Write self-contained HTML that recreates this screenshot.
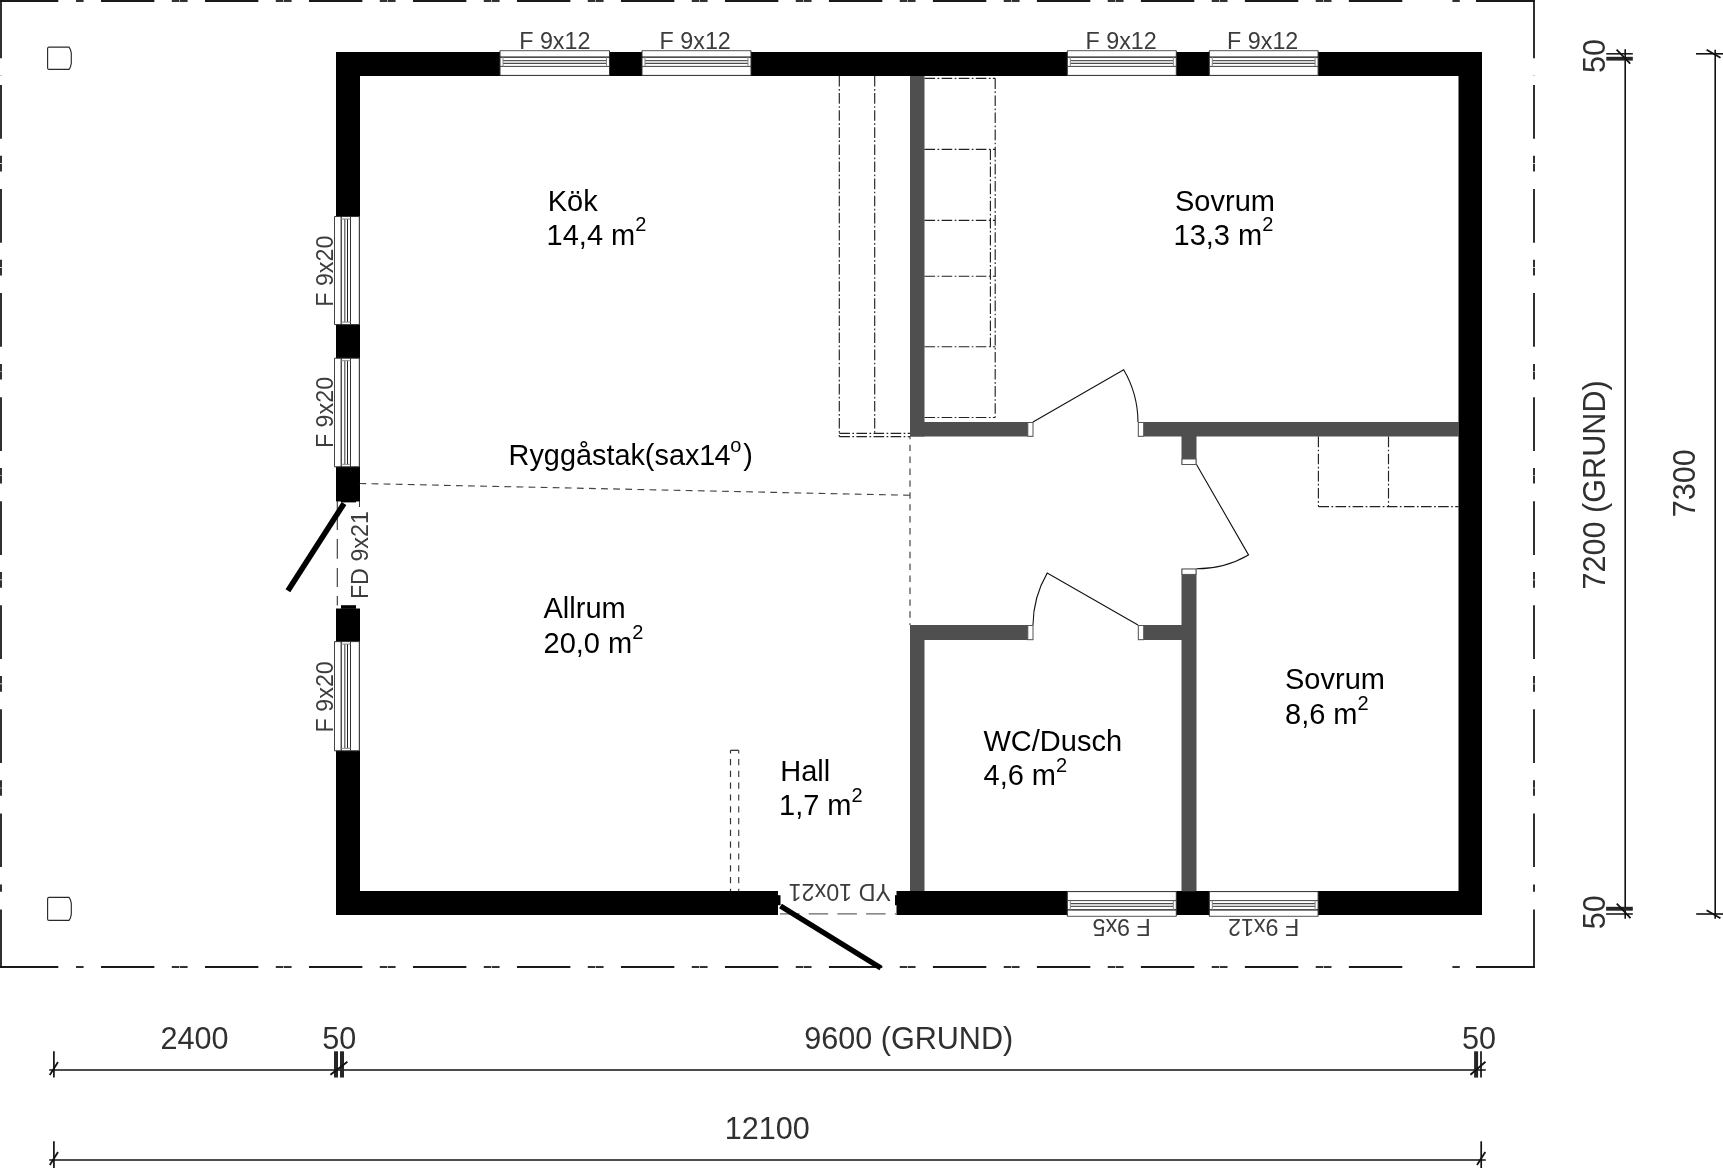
<!DOCTYPE html>
<html><head><meta charset="utf-8"><title>Planritning</title>
<style>html,body{margin:0;padding:0;background:#fff;overflow:hidden;width:1723px;height:1168px;} svg{display:block;position:absolute;left:0;top:0;filter:grayscale(1);} text{font-family:"Liberation Sans",sans-serif;}</style>
</head><body>
<svg width="1723" height="1168" viewBox="0 0 1723 1168">
<rect x="0" y="0" width="1723" height="1168" fill="#fff"/>
<line x1="0" y1="1" x2="58.3" y2="1" stroke="#1a1a1a" stroke-width="1.8" />
<line x1="76.0" y1="1" x2="83.6" y2="1" stroke="#1a1a1a" stroke-width="1.8" />
<line x1="101.0" y1="1" x2="154.4" y2="1" stroke="#1a1a1a" stroke-width="1.8" />
<line x1="171.8" y1="1" x2="179.4" y2="1" stroke="#1a1a1a" stroke-width="1.8" />
<line x1="180.0" y1="1" x2="187.6" y2="1" stroke="#1a1a1a" stroke-width="1.8" />
<line x1="204.99" y1="1" x2="258.39" y2="1" stroke="#1a1a1a" stroke-width="1.8" />
<line x1="275.79" y1="1" x2="283.39" y2="1" stroke="#1a1a1a" stroke-width="1.8" />
<line x1="283.99" y1="1" x2="291.59000000000003" y2="1" stroke="#1a1a1a" stroke-width="1.8" />
<line x1="308.98" y1="1" x2="362.38" y2="1" stroke="#1a1a1a" stroke-width="1.8" />
<line x1="379.78000000000003" y1="1" x2="387.38" y2="1" stroke="#1a1a1a" stroke-width="1.8" />
<line x1="387.98" y1="1" x2="395.58000000000004" y2="1" stroke="#1a1a1a" stroke-width="1.8" />
<line x1="412.96999999999997" y1="1" x2="466.36999999999995" y2="1" stroke="#1a1a1a" stroke-width="1.8" />
<line x1="483.77" y1="1" x2="491.37" y2="1" stroke="#1a1a1a" stroke-width="1.8" />
<line x1="491.96999999999997" y1="1" x2="499.56999999999994" y2="1" stroke="#1a1a1a" stroke-width="1.8" />
<line x1="516.96" y1="1" x2="570.36" y2="1" stroke="#1a1a1a" stroke-width="1.8" />
<line x1="587.76" y1="1" x2="595.36" y2="1" stroke="#1a1a1a" stroke-width="1.8" />
<line x1="595.96" y1="1" x2="603.5600000000001" y2="1" stroke="#1a1a1a" stroke-width="1.8" />
<line x1="620.9499999999999" y1="1" x2="674.3499999999999" y2="1" stroke="#1a1a1a" stroke-width="1.8" />
<line x1="691.7499999999999" y1="1" x2="699.3499999999999" y2="1" stroke="#1a1a1a" stroke-width="1.8" />
<line x1="699.9499999999999" y1="1" x2="707.55" y2="1" stroke="#1a1a1a" stroke-width="1.8" />
<line x1="724.9399999999999" y1="1" x2="778.3399999999999" y2="1" stroke="#1a1a1a" stroke-width="1.8" />
<line x1="795.7399999999999" y1="1" x2="803.3399999999999" y2="1" stroke="#1a1a1a" stroke-width="1.8" />
<line x1="803.9399999999999" y1="1" x2="811.54" y2="1" stroke="#1a1a1a" stroke-width="1.8" />
<line x1="828.93" y1="1" x2="882.3299999999999" y2="1" stroke="#1a1a1a" stroke-width="1.8" />
<line x1="899.7299999999999" y1="1" x2="907.3299999999999" y2="1" stroke="#1a1a1a" stroke-width="1.8" />
<line x1="907.93" y1="1" x2="915.53" y2="1" stroke="#1a1a1a" stroke-width="1.8" />
<line x1="932.92" y1="1" x2="986.3199999999999" y2="1" stroke="#1a1a1a" stroke-width="1.8" />
<line x1="1003.7199999999999" y1="1" x2="1011.3199999999999" y2="1" stroke="#1a1a1a" stroke-width="1.8" />
<line x1="1011.92" y1="1" x2="1019.52" y2="1" stroke="#1a1a1a" stroke-width="1.8" />
<line x1="1036.9099999999999" y1="1" x2="1090.31" y2="1" stroke="#1a1a1a" stroke-width="1.8" />
<line x1="1107.7099999999998" y1="1" x2="1115.31" y2="1" stroke="#1a1a1a" stroke-width="1.8" />
<line x1="1115.9099999999999" y1="1" x2="1123.5099999999998" y2="1" stroke="#1a1a1a" stroke-width="1.8" />
<line x1="1140.8999999999999" y1="1" x2="1194.3" y2="1" stroke="#1a1a1a" stroke-width="1.8" />
<line x1="1211.6999999999998" y1="1" x2="1219.3" y2="1" stroke="#1a1a1a" stroke-width="1.8" />
<line x1="1219.8999999999999" y1="1" x2="1227.4999999999998" y2="1" stroke="#1a1a1a" stroke-width="1.8" />
<line x1="1244.8899999999999" y1="1" x2="1298.29" y2="1" stroke="#1a1a1a" stroke-width="1.8" />
<line x1="1315.6899999999998" y1="1" x2="1323.29" y2="1" stroke="#1a1a1a" stroke-width="1.8" />
<line x1="1323.8899999999999" y1="1" x2="1331.4899999999998" y2="1" stroke="#1a1a1a" stroke-width="1.8" />
<line x1="1348.8799999999999" y1="1" x2="1402.28" y2="1" stroke="#1a1a1a" stroke-width="1.8" />
<line x1="1452.4" y1="1" x2="1459.8" y2="1" stroke="#1a1a1a" stroke-width="1.8" />
<line x1="1476.0" y1="1" x2="1534.9" y2="1" stroke="#1a1a1a" stroke-width="1.8" />
<line x1="0" y1="967" x2="58.3" y2="967" stroke="#1a1a1a" stroke-width="1.8" />
<line x1="76.0" y1="967" x2="83.6" y2="967" stroke="#1a1a1a" stroke-width="1.8" />
<line x1="101.0" y1="967" x2="154.4" y2="967" stroke="#1a1a1a" stroke-width="1.8" />
<line x1="171.8" y1="967" x2="179.4" y2="967" stroke="#1a1a1a" stroke-width="1.8" />
<line x1="180.0" y1="967" x2="187.6" y2="967" stroke="#1a1a1a" stroke-width="1.8" />
<line x1="204.99" y1="967" x2="258.39" y2="967" stroke="#1a1a1a" stroke-width="1.8" />
<line x1="275.79" y1="967" x2="283.39" y2="967" stroke="#1a1a1a" stroke-width="1.8" />
<line x1="283.99" y1="967" x2="291.59000000000003" y2="967" stroke="#1a1a1a" stroke-width="1.8" />
<line x1="308.98" y1="967" x2="362.38" y2="967" stroke="#1a1a1a" stroke-width="1.8" />
<line x1="379.78000000000003" y1="967" x2="387.38" y2="967" stroke="#1a1a1a" stroke-width="1.8" />
<line x1="387.98" y1="967" x2="395.58000000000004" y2="967" stroke="#1a1a1a" stroke-width="1.8" />
<line x1="412.96999999999997" y1="967" x2="466.36999999999995" y2="967" stroke="#1a1a1a" stroke-width="1.8" />
<line x1="483.77" y1="967" x2="491.37" y2="967" stroke="#1a1a1a" stroke-width="1.8" />
<line x1="491.96999999999997" y1="967" x2="499.56999999999994" y2="967" stroke="#1a1a1a" stroke-width="1.8" />
<line x1="516.96" y1="967" x2="570.36" y2="967" stroke="#1a1a1a" stroke-width="1.8" />
<line x1="587.76" y1="967" x2="595.36" y2="967" stroke="#1a1a1a" stroke-width="1.8" />
<line x1="595.96" y1="967" x2="603.5600000000001" y2="967" stroke="#1a1a1a" stroke-width="1.8" />
<line x1="620.9499999999999" y1="967" x2="674.3499999999999" y2="967" stroke="#1a1a1a" stroke-width="1.8" />
<line x1="691.7499999999999" y1="967" x2="699.3499999999999" y2="967" stroke="#1a1a1a" stroke-width="1.8" />
<line x1="699.9499999999999" y1="967" x2="707.55" y2="967" stroke="#1a1a1a" stroke-width="1.8" />
<line x1="724.9399999999999" y1="967" x2="778.3399999999999" y2="967" stroke="#1a1a1a" stroke-width="1.8" />
<line x1="795.7399999999999" y1="967" x2="803.3399999999999" y2="967" stroke="#1a1a1a" stroke-width="1.8" />
<line x1="803.9399999999999" y1="967" x2="811.54" y2="967" stroke="#1a1a1a" stroke-width="1.8" />
<line x1="828.93" y1="967" x2="882.3299999999999" y2="967" stroke="#1a1a1a" stroke-width="1.8" />
<line x1="899.7299999999999" y1="967" x2="907.3299999999999" y2="967" stroke="#1a1a1a" stroke-width="1.8" />
<line x1="907.93" y1="967" x2="915.53" y2="967" stroke="#1a1a1a" stroke-width="1.8" />
<line x1="932.92" y1="967" x2="986.3199999999999" y2="967" stroke="#1a1a1a" stroke-width="1.8" />
<line x1="1003.7199999999999" y1="967" x2="1011.3199999999999" y2="967" stroke="#1a1a1a" stroke-width="1.8" />
<line x1="1011.92" y1="967" x2="1019.52" y2="967" stroke="#1a1a1a" stroke-width="1.8" />
<line x1="1036.9099999999999" y1="967" x2="1090.31" y2="967" stroke="#1a1a1a" stroke-width="1.8" />
<line x1="1107.7099999999998" y1="967" x2="1115.31" y2="967" stroke="#1a1a1a" stroke-width="1.8" />
<line x1="1115.9099999999999" y1="967" x2="1123.5099999999998" y2="967" stroke="#1a1a1a" stroke-width="1.8" />
<line x1="1140.8999999999999" y1="967" x2="1194.3" y2="967" stroke="#1a1a1a" stroke-width="1.8" />
<line x1="1211.6999999999998" y1="967" x2="1219.3" y2="967" stroke="#1a1a1a" stroke-width="1.8" />
<line x1="1219.8999999999999" y1="967" x2="1227.4999999999998" y2="967" stroke="#1a1a1a" stroke-width="1.8" />
<line x1="1244.8899999999999" y1="967" x2="1298.29" y2="967" stroke="#1a1a1a" stroke-width="1.8" />
<line x1="1315.6899999999998" y1="967" x2="1323.29" y2="967" stroke="#1a1a1a" stroke-width="1.8" />
<line x1="1323.8899999999999" y1="967" x2="1331.4899999999998" y2="967" stroke="#1a1a1a" stroke-width="1.8" />
<line x1="1348.8799999999999" y1="967" x2="1402.28" y2="967" stroke="#1a1a1a" stroke-width="1.8" />
<line x1="1452.4" y1="967" x2="1459.8" y2="967" stroke="#1a1a1a" stroke-width="1.8" />
<line x1="1476.0" y1="967" x2="1534.9" y2="967" stroke="#1a1a1a" stroke-width="1.8" />
<line x1="1" y1="0" x2="1" y2="58.3" stroke="#1a1a1a" stroke-width="1.8" />
<line x1="1" y1="75" x2="1" y2="76" stroke="#bbb" stroke-width="1.6" />
<line x1="1" y1="85.0" x2="1" y2="138.7" stroke="#1a1a1a" stroke-width="1.8" />
<line x1="1" y1="155.8" x2="1" y2="163.3" stroke="#1a1a1a" stroke-width="1.8" />
<line x1="1" y1="163.9" x2="1" y2="171.4" stroke="#1a1a1a" stroke-width="1.8" />
<line x1="1" y1="189.06" x2="1" y2="242.76" stroke="#1a1a1a" stroke-width="1.8" />
<line x1="1" y1="259.86" x2="1" y2="267.36" stroke="#1a1a1a" stroke-width="1.8" />
<line x1="1" y1="267.96000000000004" x2="1" y2="275.46000000000004" stroke="#1a1a1a" stroke-width="1.8" />
<line x1="1" y1="293.12" x2="1" y2="346.82" stroke="#1a1a1a" stroke-width="1.8" />
<line x1="1" y1="363.92" x2="1" y2="371.42" stroke="#1a1a1a" stroke-width="1.8" />
<line x1="1" y1="372.02" x2="1" y2="379.52" stroke="#1a1a1a" stroke-width="1.8" />
<line x1="1" y1="397.18" x2="1" y2="450.88" stroke="#1a1a1a" stroke-width="1.8" />
<line x1="1" y1="467.98" x2="1" y2="475.48" stroke="#1a1a1a" stroke-width="1.8" />
<line x1="1" y1="476.08000000000004" x2="1" y2="483.58000000000004" stroke="#1a1a1a" stroke-width="1.8" />
<line x1="1" y1="501.24" x2="1" y2="554.94" stroke="#1a1a1a" stroke-width="1.8" />
<line x1="1" y1="572.04" x2="1" y2="579.54" stroke="#1a1a1a" stroke-width="1.8" />
<line x1="1" y1="580.14" x2="1" y2="587.64" stroke="#1a1a1a" stroke-width="1.8" />
<line x1="1" y1="605.3" x2="1" y2="659.0" stroke="#1a1a1a" stroke-width="1.8" />
<line x1="1" y1="676.0999999999999" x2="1" y2="683.5999999999999" stroke="#1a1a1a" stroke-width="1.8" />
<line x1="1" y1="684.1999999999999" x2="1" y2="691.6999999999999" stroke="#1a1a1a" stroke-width="1.8" />
<line x1="1" y1="709.36" x2="1" y2="763.0600000000001" stroke="#1a1a1a" stroke-width="1.8" />
<line x1="1" y1="780.16" x2="1" y2="787.66" stroke="#1a1a1a" stroke-width="1.8" />
<line x1="1" y1="788.26" x2="1" y2="795.76" stroke="#1a1a1a" stroke-width="1.8" />
<line x1="1" y1="813.4200000000001" x2="1" y2="867.1200000000001" stroke="#1a1a1a" stroke-width="1.8" />
<line x1="1" y1="884.6" x2="1" y2="891.8" stroke="#1a1a1a" stroke-width="1.8" />
<line x1="1" y1="909.4" x2="1" y2="967.9" stroke="#1a1a1a" stroke-width="1.8" />
<line x1="1534" y1="0" x2="1534" y2="58.3" stroke="#1a1a1a" stroke-width="1.8" />
<line x1="1534" y1="75" x2="1534" y2="76" stroke="#bbb" stroke-width="1.6" />
<line x1="1534" y1="85.0" x2="1534" y2="138.7" stroke="#1a1a1a" stroke-width="1.8" />
<line x1="1534" y1="155.8" x2="1534" y2="163.3" stroke="#1a1a1a" stroke-width="1.8" />
<line x1="1534" y1="163.9" x2="1534" y2="171.4" stroke="#1a1a1a" stroke-width="1.8" />
<line x1="1534" y1="189.06" x2="1534" y2="242.76" stroke="#1a1a1a" stroke-width="1.8" />
<line x1="1534" y1="259.86" x2="1534" y2="267.36" stroke="#1a1a1a" stroke-width="1.8" />
<line x1="1534" y1="267.96000000000004" x2="1534" y2="275.46000000000004" stroke="#1a1a1a" stroke-width="1.8" />
<line x1="1534" y1="293.12" x2="1534" y2="346.82" stroke="#1a1a1a" stroke-width="1.8" />
<line x1="1534" y1="363.92" x2="1534" y2="371.42" stroke="#1a1a1a" stroke-width="1.8" />
<line x1="1534" y1="372.02" x2="1534" y2="379.52" stroke="#1a1a1a" stroke-width="1.8" />
<line x1="1534" y1="397.18" x2="1534" y2="450.88" stroke="#1a1a1a" stroke-width="1.8" />
<line x1="1534" y1="467.98" x2="1534" y2="475.48" stroke="#1a1a1a" stroke-width="1.8" />
<line x1="1534" y1="476.08000000000004" x2="1534" y2="483.58000000000004" stroke="#1a1a1a" stroke-width="1.8" />
<line x1="1534" y1="501.24" x2="1534" y2="554.94" stroke="#1a1a1a" stroke-width="1.8" />
<line x1="1534" y1="572.04" x2="1534" y2="579.54" stroke="#1a1a1a" stroke-width="1.8" />
<line x1="1534" y1="580.14" x2="1534" y2="587.64" stroke="#1a1a1a" stroke-width="1.8" />
<line x1="1534" y1="605.3" x2="1534" y2="659.0" stroke="#1a1a1a" stroke-width="1.8" />
<line x1="1534" y1="676.0999999999999" x2="1534" y2="683.5999999999999" stroke="#1a1a1a" stroke-width="1.8" />
<line x1="1534" y1="684.1999999999999" x2="1534" y2="691.6999999999999" stroke="#1a1a1a" stroke-width="1.8" />
<line x1="1534" y1="709.36" x2="1534" y2="763.0600000000001" stroke="#1a1a1a" stroke-width="1.8" />
<line x1="1534" y1="780.16" x2="1534" y2="787.66" stroke="#1a1a1a" stroke-width="1.8" />
<line x1="1534" y1="788.26" x2="1534" y2="795.76" stroke="#1a1a1a" stroke-width="1.8" />
<line x1="1534" y1="813.4200000000001" x2="1534" y2="867.1200000000001" stroke="#1a1a1a" stroke-width="1.8" />
<line x1="1534" y1="884.6" x2="1534" y2="891.8" stroke="#1a1a1a" stroke-width="1.8" />
<line x1="1534" y1="909.4" x2="1534" y2="967.9" stroke="#1a1a1a" stroke-width="1.8" />
<path d="M49 47.1 H69 L70.4 49.5 L71.3 53.0 V63.50000000000001 L70.4 67.0 L69 69.4 H49 Q47.6 69.4 47.6 67.9 V48.6 Q47.6 47.1 49 47.1 Z" fill="none" stroke="#2a2a2a" stroke-width="1.15"/>
<path d="M49 897.4 H69 L70.4 899.8 L71.3 903.3 V914.5 L70.4 918.0 L69 920.4 H49 Q47.6 920.4 47.6 918.9 V898.9 Q47.6 897.4 49 897.4 Z" fill="none" stroke="#2a2a2a" stroke-width="1.15"/>
<path d="M336 52 H1482 V915 H336 Z M360 76 V891 H1458.5 V76 Z" fill="#000" fill-rule="evenodd"/>
<rect x="910" y="76" width="14.5" height="360.5" fill="#4f4f4f" stroke="none" stroke-width="1" />
<rect x="910" y="422" width="123" height="14.5" fill="#4f4f4f" stroke="none" stroke-width="1" />
<rect x="1138" y="422" width="321" height="14.5" fill="#4f4f4f" stroke="none" stroke-width="1" />
<rect x="1181.5" y="436" width="15" height="28.5" fill="#4f4f4f" stroke="none" stroke-width="1" />
<rect x="1181.5" y="568.8" width="15" height="322.5" fill="#4f4f4f" stroke="none" stroke-width="1" />
<rect x="910" y="625" width="123" height="15" fill="#4f4f4f" stroke="none" stroke-width="1" />
<rect x="1138" y="625" width="44" height="15" fill="#4f4f4f" stroke="none" stroke-width="1" />
<rect x="910" y="625" width="14.5" height="266" fill="#4f4f4f" stroke="none" stroke-width="1" />
<rect x="1027.8" y="422.5" width="5.2" height="13.8" fill="#fff" stroke="#555" stroke-width="1" />
<rect x="1138.3" y="422.5" width="5.4" height="13.8" fill="#fff" stroke="#555" stroke-width="1" />
<rect x="1182" y="459" width="14" height="5.5" fill="#fff" stroke="#555" stroke-width="1" />
<rect x="1182" y="569" width="14" height="5.4" fill="#fff" stroke="#555" stroke-width="1" />
<rect x="1027.8" y="625.5" width="5.2" height="14.2" fill="#fff" stroke="#555" stroke-width="1" />
<rect x="1138.3" y="625.5" width="5.4" height="14.2" fill="#fff" stroke="#555" stroke-width="1" />
<path d="M1033 422 L1123.7 369.7 A105 105 0 0 1 1138 422" fill="none" stroke="#111" stroke-width="1.1"/>
<path d="M1196.5 464.5 L1248.5 554.9 A104.3 104.3 0 0 1 1196.5 568.8" fill="none" stroke="#111" stroke-width="1.1"/>
<path d="M1138 625 L1047.2 573.1 A105 105 0 0 0 1033 625" fill="none" stroke="#111" stroke-width="1.1"/>
<rect x="500" y="50.7" width="109.5" height="24.89999999999999" fill="#fff" stroke="none" stroke-width="1" />
<line x1="500" y1="50.7" x2="609.5" y2="50.7" stroke="#555" stroke-width="1" />
<line x1="500" y1="75.4" x2="609.5" y2="75.4" stroke="#333" stroke-width="1" />
<line x1="500" y1="50.7" x2="500" y2="75.6" stroke="#333" stroke-width="1" />
<line x1="609.5" y1="50.7" x2="609.5" y2="75.6" stroke="#333" stroke-width="1" />
<line x1="500" y1="57.1" x2="609.5" y2="57.1" stroke="#111" stroke-width="1.1" />
<line x1="500" y1="66.4" x2="609.5" y2="66.4" stroke="#444" stroke-width="1" />
<line x1="503" y1="60.7" x2="606.5" y2="60.7" stroke="#333" stroke-width="1" />
<line x1="503" y1="63.3" x2="606.5" y2="63.3" stroke="#222" stroke-width="1" />
<line x1="503" y1="57.1" x2="503" y2="66.4" stroke="#888" stroke-width="1" />
<line x1="606.5" y1="57.1" x2="606.5" y2="66.4" stroke="#888" stroke-width="1" />
<rect x="642" y="50.7" width="109" height="24.89999999999999" fill="#fff" stroke="none" stroke-width="1" />
<line x1="642" y1="50.7" x2="751" y2="50.7" stroke="#555" stroke-width="1" />
<line x1="642" y1="75.4" x2="751" y2="75.4" stroke="#333" stroke-width="1" />
<line x1="642" y1="50.7" x2="642" y2="75.6" stroke="#333" stroke-width="1" />
<line x1="751" y1="50.7" x2="751" y2="75.6" stroke="#333" stroke-width="1" />
<line x1="642" y1="57.1" x2="751" y2="57.1" stroke="#111" stroke-width="1.1" />
<line x1="642" y1="66.4" x2="751" y2="66.4" stroke="#444" stroke-width="1" />
<line x1="645" y1="60.7" x2="748" y2="60.7" stroke="#333" stroke-width="1" />
<line x1="645" y1="63.3" x2="748" y2="63.3" stroke="#222" stroke-width="1" />
<line x1="645" y1="57.1" x2="645" y2="66.4" stroke="#888" stroke-width="1" />
<line x1="748" y1="57.1" x2="748" y2="66.4" stroke="#888" stroke-width="1" />
<rect x="1067.3" y="50.7" width="109.0" height="24.89999999999999" fill="#fff" stroke="none" stroke-width="1" />
<line x1="1067.3" y1="50.7" x2="1176.3" y2="50.7" stroke="#555" stroke-width="1" />
<line x1="1067.3" y1="75.4" x2="1176.3" y2="75.4" stroke="#333" stroke-width="1" />
<line x1="1067.3" y1="50.7" x2="1067.3" y2="75.6" stroke="#333" stroke-width="1" />
<line x1="1176.3" y1="50.7" x2="1176.3" y2="75.6" stroke="#333" stroke-width="1" />
<line x1="1067.3" y1="57.1" x2="1176.3" y2="57.1" stroke="#111" stroke-width="1.1" />
<line x1="1067.3" y1="66.4" x2="1176.3" y2="66.4" stroke="#444" stroke-width="1" />
<line x1="1070.3" y1="60.7" x2="1173.3" y2="60.7" stroke="#333" stroke-width="1" />
<line x1="1070.3" y1="63.3" x2="1173.3" y2="63.3" stroke="#222" stroke-width="1" />
<line x1="1070.3" y1="57.1" x2="1070.3" y2="66.4" stroke="#888" stroke-width="1" />
<line x1="1173.3" y1="57.1" x2="1173.3" y2="66.4" stroke="#888" stroke-width="1" />
<rect x="1209.3" y="50.7" width="108.79999999999995" height="24.89999999999999" fill="#fff" stroke="none" stroke-width="1" />
<line x1="1209.3" y1="50.7" x2="1318.1" y2="50.7" stroke="#555" stroke-width="1" />
<line x1="1209.3" y1="75.4" x2="1318.1" y2="75.4" stroke="#333" stroke-width="1" />
<line x1="1209.3" y1="50.7" x2="1209.3" y2="75.6" stroke="#333" stroke-width="1" />
<line x1="1318.1" y1="50.7" x2="1318.1" y2="75.6" stroke="#333" stroke-width="1" />
<line x1="1209.3" y1="57.1" x2="1318.1" y2="57.1" stroke="#111" stroke-width="1.1" />
<line x1="1209.3" y1="66.4" x2="1318.1" y2="66.4" stroke="#444" stroke-width="1" />
<line x1="1212.3" y1="60.7" x2="1315.1" y2="60.7" stroke="#333" stroke-width="1" />
<line x1="1212.3" y1="63.3" x2="1315.1" y2="63.3" stroke="#222" stroke-width="1" />
<line x1="1212.3" y1="57.1" x2="1212.3" y2="66.4" stroke="#888" stroke-width="1" />
<line x1="1315.1" y1="57.1" x2="1315.1" y2="66.4" stroke="#888" stroke-width="1" />
<rect x="1067.3" y="891.4" width="109.0" height="24.899999999999977" fill="#fff" stroke="none" stroke-width="1" />
<line x1="1067.3" y1="916.3" x2="1176.3" y2="916.3" stroke="#555" stroke-width="1" />
<line x1="1067.3" y1="891.6" x2="1176.3" y2="891.6" stroke="#333" stroke-width="1" />
<line x1="1067.3" y1="891.4" x2="1067.3" y2="916.3" stroke="#333" stroke-width="1" />
<line x1="1176.3" y1="891.4" x2="1176.3" y2="916.3" stroke="#333" stroke-width="1" />
<line x1="1067.3" y1="909.9" x2="1176.3" y2="909.9" stroke="#111" stroke-width="1.1" />
<line x1="1067.3" y1="900.6" x2="1176.3" y2="900.6" stroke="#444" stroke-width="1" />
<line x1="1070.3" y1="906.3" x2="1173.3" y2="906.3" stroke="#333" stroke-width="1" />
<line x1="1070.3" y1="903.7" x2="1173.3" y2="903.7" stroke="#222" stroke-width="1" />
<line x1="1070.3" y1="909.9" x2="1070.3" y2="900.6" stroke="#888" stroke-width="1" />
<line x1="1173.3" y1="909.9" x2="1173.3" y2="900.6" stroke="#888" stroke-width="1" />
<rect x="1209.3" y="891.4" width="108.79999999999995" height="24.899999999999977" fill="#fff" stroke="none" stroke-width="1" />
<line x1="1209.3" y1="916.3" x2="1318.1" y2="916.3" stroke="#555" stroke-width="1" />
<line x1="1209.3" y1="891.6" x2="1318.1" y2="891.6" stroke="#333" stroke-width="1" />
<line x1="1209.3" y1="891.4" x2="1209.3" y2="916.3" stroke="#333" stroke-width="1" />
<line x1="1318.1" y1="891.4" x2="1318.1" y2="916.3" stroke="#333" stroke-width="1" />
<line x1="1209.3" y1="909.9" x2="1318.1" y2="909.9" stroke="#111" stroke-width="1.1" />
<line x1="1209.3" y1="900.6" x2="1318.1" y2="900.6" stroke="#444" stroke-width="1" />
<line x1="1212.3" y1="906.3" x2="1315.1" y2="906.3" stroke="#333" stroke-width="1" />
<line x1="1212.3" y1="903.7" x2="1315.1" y2="903.7" stroke="#222" stroke-width="1" />
<line x1="1212.3" y1="909.9" x2="1212.3" y2="900.6" stroke="#888" stroke-width="1" />
<line x1="1315.1" y1="909.9" x2="1315.1" y2="900.6" stroke="#888" stroke-width="1" />
<rect x="334.5" y="216.5" width="25.0" height="108.10000000000002" fill="#fff" stroke="none" stroke-width="1" />
<line x1="334.5" y1="216.5" x2="334.5" y2="324.6" stroke="#444" stroke-width="1" />
<line x1="359.3" y1="216.5" x2="359.3" y2="324.6" stroke="#333" stroke-width="1" />
<line x1="334.5" y1="216.5" x2="359.5" y2="216.5" stroke="#333" stroke-width="1" />
<line x1="334.5" y1="324.6" x2="359.5" y2="324.6" stroke="#333" stroke-width="1" />
<line x1="341.2" y1="216.5" x2="341.2" y2="324.6" stroke="#111" stroke-width="1.1" />
<line x1="350.5" y1="216.5" x2="350.5" y2="324.6" stroke="#333" stroke-width="1" />
<line x1="344.85" y1="219.0" x2="344.85" y2="322.1" stroke="#333" stroke-width="1" />
<line x1="347.5" y1="219.0" x2="347.5" y2="322.1" stroke="#222" stroke-width="1" />
<line x1="341.2" y1="219.0" x2="350.5" y2="219.0" stroke="#888" stroke-width="1" />
<line x1="341.2" y1="322.1" x2="350.5" y2="322.1" stroke="#888" stroke-width="1" />
<rect x="334.5" y="358.2" width="25.0" height="108.60000000000002" fill="#fff" stroke="none" stroke-width="1" />
<line x1="334.5" y1="358.2" x2="334.5" y2="466.8" stroke="#444" stroke-width="1" />
<line x1="359.3" y1="358.2" x2="359.3" y2="466.8" stroke="#333" stroke-width="1" />
<line x1="334.5" y1="358.2" x2="359.5" y2="358.2" stroke="#333" stroke-width="1" />
<line x1="334.5" y1="466.8" x2="359.5" y2="466.8" stroke="#333" stroke-width="1" />
<line x1="341.2" y1="358.2" x2="341.2" y2="466.8" stroke="#111" stroke-width="1.1" />
<line x1="350.5" y1="358.2" x2="350.5" y2="466.8" stroke="#333" stroke-width="1" />
<line x1="344.85" y1="360.7" x2="344.85" y2="464.3" stroke="#333" stroke-width="1" />
<line x1="347.5" y1="360.7" x2="347.5" y2="464.3" stroke="#222" stroke-width="1" />
<line x1="341.2" y1="360.7" x2="350.5" y2="360.7" stroke="#888" stroke-width="1" />
<line x1="341.2" y1="464.3" x2="350.5" y2="464.3" stroke="#888" stroke-width="1" />
<rect x="334.5" y="641.6" width="25.0" height="109.19999999999993" fill="#fff" stroke="none" stroke-width="1" />
<line x1="334.5" y1="641.6" x2="334.5" y2="750.8" stroke="#444" stroke-width="1" />
<line x1="359.3" y1="641.6" x2="359.3" y2="750.8" stroke="#333" stroke-width="1" />
<line x1="334.5" y1="641.6" x2="359.5" y2="641.6" stroke="#333" stroke-width="1" />
<line x1="334.5" y1="750.8" x2="359.5" y2="750.8" stroke="#333" stroke-width="1" />
<line x1="341.2" y1="641.6" x2="341.2" y2="750.8" stroke="#111" stroke-width="1.1" />
<line x1="350.5" y1="641.6" x2="350.5" y2="750.8" stroke="#333" stroke-width="1" />
<line x1="344.85" y1="644.1" x2="344.85" y2="748.3" stroke="#333" stroke-width="1" />
<line x1="347.5" y1="644.1" x2="347.5" y2="748.3" stroke="#222" stroke-width="1" />
<line x1="341.2" y1="644.1" x2="350.5" y2="644.1" stroke="#888" stroke-width="1" />
<line x1="341.2" y1="748.3" x2="350.5" y2="748.3" stroke="#888" stroke-width="1" />
<rect x="335" y="501.5" width="26" height="107" fill="#fff" stroke="none" stroke-width="1" />
<rect x="341" y="499" width="15" height="3.4" fill="#000" stroke="none" stroke-width="1" />
<rect x="341" y="605.2" width="15" height="3.6" fill="#000" stroke="none" stroke-width="1" />
<line x1="337.3" y1="501.2" x2="337.3" y2="529.9" stroke="#333" stroke-width="1.1" />
<line x1="337.3" y1="539.1" x2="337.3" y2="558.7" stroke="#333" stroke-width="1.1" />
<line x1="337.3" y1="567.9" x2="337.3" y2="586.9" stroke="#333" stroke-width="1.1" />
<line x1="337.3" y1="596.1" x2="337.3" y2="605.5" stroke="#333" stroke-width="1.1" />
<line x1="359.5" y1="501" x2="359.5" y2="507" stroke="#333" stroke-width="1" />
<line x1="344" y1="503.5" x2="287.9" y2="590.7" stroke="#000" stroke-width="5.6" />
<rect x="778" y="890" width="118.5" height="26" fill="#fff" stroke="none" stroke-width="1" />
<rect x="776" y="895.2" width="4.5" height="10" fill="#000" stroke="none" stroke-width="1" />
<rect x="895" y="895.2" width="4" height="10" fill="#000" stroke="none" stroke-width="1" />
<line x1="779" y1="913.8" x2="896" y2="913.8" stroke="#666" stroke-width="1.2" stroke-dasharray="19.5 9.2" stroke-dashoffset="-1"/>
<line x1="780.5" y1="906" x2="880.8" y2="968" stroke="#000" stroke-width="5.4" />
<line x1="839.3" y1="76" x2="839.3" y2="436.6" stroke="#222" stroke-width="1.15" stroke-dasharray="10.6 2.45 1.7 2.35"/>
<line x1="874.7" y1="76" x2="874.7" y2="433.4" stroke="#222" stroke-width="1.15" stroke-dasharray="10.6 2.45 1.7 2.35"/>
<line x1="839.3" y1="436.6" x2="910" y2="436.6" stroke="#222" stroke-width="1.15" stroke-dasharray="10.6 2.45 1.7 2.35"/>
<line x1="839.3" y1="433.4" x2="910" y2="433.4" stroke="#222" stroke-width="1.15" stroke-dasharray="10.6 2.45 1.7 2.35"/>
<line x1="924.5" y1="78.3" x2="995.2" y2="78.3" stroke="#222" stroke-width="1.15" stroke-dasharray="10.6 2.45 1.7 2.35"/>
<line x1="995.2" y1="78.3" x2="995.2" y2="417.5" stroke="#222" stroke-width="1.15" stroke-dasharray="10.6 2.45 1.7 2.35"/>
<line x1="924.5" y1="149.4" x2="995.2" y2="149.4" stroke="#222" stroke-width="1.15" stroke-dasharray="10.6 2.45 1.7 2.35"/>
<line x1="924.5" y1="220.4" x2="995.2" y2="220.4" stroke="#222" stroke-width="1.15" stroke-dasharray="10.6 2.45 1.7 2.35"/>
<line x1="924.5" y1="276.2" x2="995.2" y2="276.2" stroke="#222" stroke-width="1.15" stroke-dasharray="10.6 2.45 1.7 2.35"/>
<line x1="924.5" y1="346.7" x2="995.2" y2="346.7" stroke="#222" stroke-width="1.15" stroke-dasharray="10.6 2.45 1.7 2.35"/>
<line x1="924.5" y1="417.5" x2="995.2" y2="417.5" stroke="#222" stroke-width="1.15" stroke-dasharray="10.6 2.45 1.7 2.35"/>
<line x1="990.4" y1="149.4" x2="990.4" y2="346.7" stroke="#222" stroke-width="1.15" stroke-dasharray="10.6 2.45 1.7 2.35"/>
<line x1="1318.4" y1="436.6" x2="1318.4" y2="506.6" stroke="#222" stroke-width="1.15" stroke-dasharray="10.6 2.45 1.7 2.35"/>
<line x1="1388.5" y1="436.6" x2="1388.5" y2="506.6" stroke="#222" stroke-width="1.15" stroke-dasharray="10.6 2.45 1.7 2.35"/>
<line x1="1318.4" y1="506.6" x2="1458.5" y2="506.6" stroke="#222" stroke-width="1.15" stroke-dasharray="10.6 2.45 1.7 2.35"/>
<line x1="910" y1="436.6" x2="910" y2="625" stroke="#444" stroke-width="1.2" stroke-dasharray="6.4 5.5" stroke-dashoffset="3.8"/>
<line x1="910" y1="495.3" x2="359.7" y2="483.5" stroke="#444" stroke-width="1.15" stroke-dasharray="6.8 5.287"/>
<line x1="730.5" y1="750.3" x2="738.7" y2="750.3" stroke="#222" stroke-width="1.2" />
<line x1="730.5" y1="750.3" x2="730.5" y2="891" stroke="#333" stroke-width="1.2" stroke-dasharray="6.2 5.6" stroke-dashoffset="3.1"/>
<line x1="738.7" y1="750.3" x2="738.7" y2="891" stroke="#444" stroke-width="1.2" stroke-dasharray="6.2 5.6" stroke-dashoffset="3.1"/>
<line x1="49.2" y1="1070" x2="1485.8" y2="1070" stroke="#111" stroke-width="1.6" />
<line x1="49.2" y1="1160" x2="1485.8" y2="1160" stroke="#111" stroke-width="1.6" />
<line x1="53.9" y1="1051.3" x2="53.9" y2="1077.4" stroke="#111" stroke-width="1.7" />
<line x1="49.8" y1="1075" x2="58" y2="1062" stroke="#111" stroke-width="1.8" />
<line x1="53.9" y1="1141.3" x2="53.9" y2="1168" stroke="#111" stroke-width="1.7" />
<line x1="49.8" y1="1165" x2="58" y2="1152" stroke="#111" stroke-width="1.8" />
<rect x="334.0" y="1051.3" width="4.0" height="26.2" fill="#262626" stroke="none" stroke-width="1" />
<rect x="340.0" y="1051.3" width="4.0" height="26.2" fill="#262626" stroke="none" stroke-width="1" />
<line x1="330.4" y1="1074.8" x2="347.4" y2="1061.8" stroke="#111" stroke-width="1.8" />
<rect x="1474.1" y="1051.3" width="4.0" height="26.3" fill="#262626" stroke="none" stroke-width="1" />
<line x1="1481.0" y1="1051.3" x2="1481.0" y2="1077.6" stroke="#111" stroke-width="1.7" />
<line x1="1470.4" y1="1074.8" x2="1485.5" y2="1061.8" stroke="#111" stroke-width="1.8" />
<line x1="1481.2" y1="1141.3" x2="1481.2" y2="1168" stroke="#111" stroke-width="1.7" />
<line x1="1477" y1="1165" x2="1485.3" y2="1152" stroke="#111" stroke-width="1.8" />
<line x1="1625.2" y1="49.3" x2="1625.2" y2="918.7" stroke="#111" stroke-width="1.6" />
<line x1="1715.2" y1="49.7" x2="1715.2" y2="918.7" stroke="#111" stroke-width="1.6" />
<line x1="1606.3" y1="53.8" x2="1632.8" y2="53.8" stroke="#111" stroke-width="1.5" />
<rect x="1606.3" y="56.8" width="26.5" height="3.8" fill="#262626" stroke="none" stroke-width="1" />
<line x1="1616.6" y1="49.6" x2="1630.2" y2="63.6" stroke="#111" stroke-width="1.8" />
<rect x="1606.1" y="906.8" width="26.7" height="3.9" fill="#262626" stroke="none" stroke-width="1" />
<line x1="1606.1" y1="914.0" x2="1632.8" y2="914.0" stroke="#111" stroke-width="1.5" />
<line x1="1616.8" y1="903.6" x2="1630.5" y2="918.2" stroke="#111" stroke-width="1.8" />
<line x1="1696" y1="53.8" x2="1723" y2="53.8" stroke="#111" stroke-width="1.6" />
<line x1="1706.6" y1="49.7" x2="1720.5" y2="57.8" stroke="#111" stroke-width="1.8" />
<line x1="1696.2" y1="914" x2="1723" y2="914" stroke="#111" stroke-width="1.6" />
<line x1="1706.6" y1="910.2" x2="1720.4" y2="918.2" stroke="#111" stroke-width="1.8" />
<text x="547.7" y="210.5" font-family="Liberation Sans, sans-serif" font-size="29" fill="#000" >Kök</text>
<text x="546.6" y="244.9" font-family="Liberation Sans, sans-serif" font-size="29" fill="#000">14,4 m<tspan font-size="20" dy="-13.5">2</tspan></text>
<text x="1175.0" y="210.5" font-family="Liberation Sans, sans-serif" font-size="29" fill="#000" >Sovrum</text>
<text x="1173.5" y="244.9" font-family="Liberation Sans, sans-serif" font-size="29" fill="#000">13,3 m<tspan font-size="20" dy="-13.5">2</tspan></text>
<text x="543.5" y="618" font-family="Liberation Sans, sans-serif" font-size="29" fill="#000" >Allrum</text>
<text x="543.5" y="652.7" font-family="Liberation Sans, sans-serif" font-size="29" fill="#000">20,0 m<tspan font-size="20" dy="-13.5">2</tspan></text>
<text x="1285" y="688.7" font-family="Liberation Sans, sans-serif" font-size="29" fill="#000" >Sovrum</text>
<text x="1285" y="723.6" font-family="Liberation Sans, sans-serif" font-size="29" fill="#000">8,6 m<tspan font-size="20" dy="-13.5">2</tspan></text>
<text x="983.5" y="750.5" font-family="Liberation Sans, sans-serif" font-size="29" fill="#000" >WC/Dusch</text>
<text x="983.5" y="785.0" font-family="Liberation Sans, sans-serif" font-size="29" fill="#000">4,6 m<tspan font-size="20" dy="-13.5">2</tspan></text>
<text x="780.3" y="781.1" font-family="Liberation Sans, sans-serif" font-size="29" fill="#000" >Hall</text>
<text x="779.0" y="815.0" font-family="Liberation Sans, sans-serif" font-size="29" fill="#000">1,7 m<tspan font-size="20" dy="-13.5">2</tspan></text>
<text x="508.6" y="465.3" font-family="Liberation Sans, sans-serif" font-size="28.85" fill="#000">Ryggåstak(sax1<tspan dx="-0.8">4</tspan><tspan font-size="20" dy="-13.5" dx="-0.3">o</tspan><tspan dy="13.5" dx="1.7">)</tspan></text>
<text x="554.8" y="48.6" font-family="Liberation Sans, sans-serif" font-size="23.3" fill="#3c3c3c" text-anchor="middle">F 9x12</text>
<text x="695.2" y="48.6" font-family="Liberation Sans, sans-serif" font-size="23.3" fill="#3c3c3c" text-anchor="middle">F 9x12</text>
<text x="1121.1" y="48.6" font-family="Liberation Sans, sans-serif" font-size="23.3" fill="#3c3c3c" text-anchor="middle">F 9x12</text>
<text x="1262.7" y="48.6" font-family="Liberation Sans, sans-serif" font-size="23.3" fill="#3c3c3c" text-anchor="middle">F 9x12</text>
<text transform="translate(1121.7,919.2) rotate(180)" font-family="Liberation Sans, sans-serif" font-size="23.3" fill="#3c3c3c" text-anchor="middle">F 9x5</text>
<text transform="translate(1263.6,919.2) rotate(180)" font-family="Liberation Sans, sans-serif" font-size="23.3" fill="#3c3c3c" text-anchor="middle">F 9x12</text>
<text transform="translate(839.8,883.9) rotate(180)" font-family="Liberation Sans, sans-serif" font-size="23.3" fill="#3c3c3c" text-anchor="middle">YD 10x21</text>
<text transform="translate(333.1,271.2) rotate(-90)" font-family="Liberation Sans, sans-serif" font-size="23.3" fill="#3c3c3c" text-anchor="middle">F 9x20</text>
<text transform="translate(333.1,412.5) rotate(-90)" font-family="Liberation Sans, sans-serif" font-size="23.3" fill="#3c3c3c" text-anchor="middle">F 9x20</text>
<text transform="translate(333.1,696.8) rotate(-90)" font-family="Liberation Sans, sans-serif" font-size="23.3" fill="#3c3c3c" text-anchor="middle">F 9x20</text>
<text transform="translate(368,555.1) rotate(-90)" font-family="Liberation Sans, sans-serif" font-size="23.3" fill="#3c3c3c" text-anchor="middle">FD 9x21</text>
<text x="194.5" y="1049.2" font-family="Liberation Sans, sans-serif" font-size="30.6" fill="#303030" text-anchor="middle">2400</text>
<text x="339.2" y="1049.2" font-family="Liberation Sans, sans-serif" font-size="30.6" fill="#303030" text-anchor="middle">50</text>
<text x="908.7" y="1049.0" font-family="Liberation Sans, sans-serif" font-size="30.6" fill="#303030" text-anchor="middle">9600 (GRUND)</text>
<text x="1478.9" y="1049.2" font-family="Liberation Sans, sans-serif" font-size="30.6" fill="#303030" text-anchor="middle">50</text>
<text x="767.3" y="1139" font-family="Liberation Sans, sans-serif" font-size="30.6" fill="#303030" text-anchor="middle">12100</text>
<text transform="translate(1604.6,56) rotate(-90)" font-family="Liberation Sans, sans-serif" font-size="30.6" fill="#303030" text-anchor="middle">50</text>
<text transform="translate(1604.5,912.3) rotate(-90)" font-family="Liberation Sans, sans-serif" font-size="30.6" fill="#303030" text-anchor="middle">50</text>
<text transform="translate(1604.8,484.9) rotate(-90)" font-family="Liberation Sans, sans-serif" font-size="30.6" fill="#303030" text-anchor="middle">7200 (GRUND)</text>
<text transform="translate(1695.2,483.3) rotate(-90)" font-family="Liberation Sans, sans-serif" font-size="30.6" fill="#303030" text-anchor="middle">7300</text>
</svg>
</body></html>
